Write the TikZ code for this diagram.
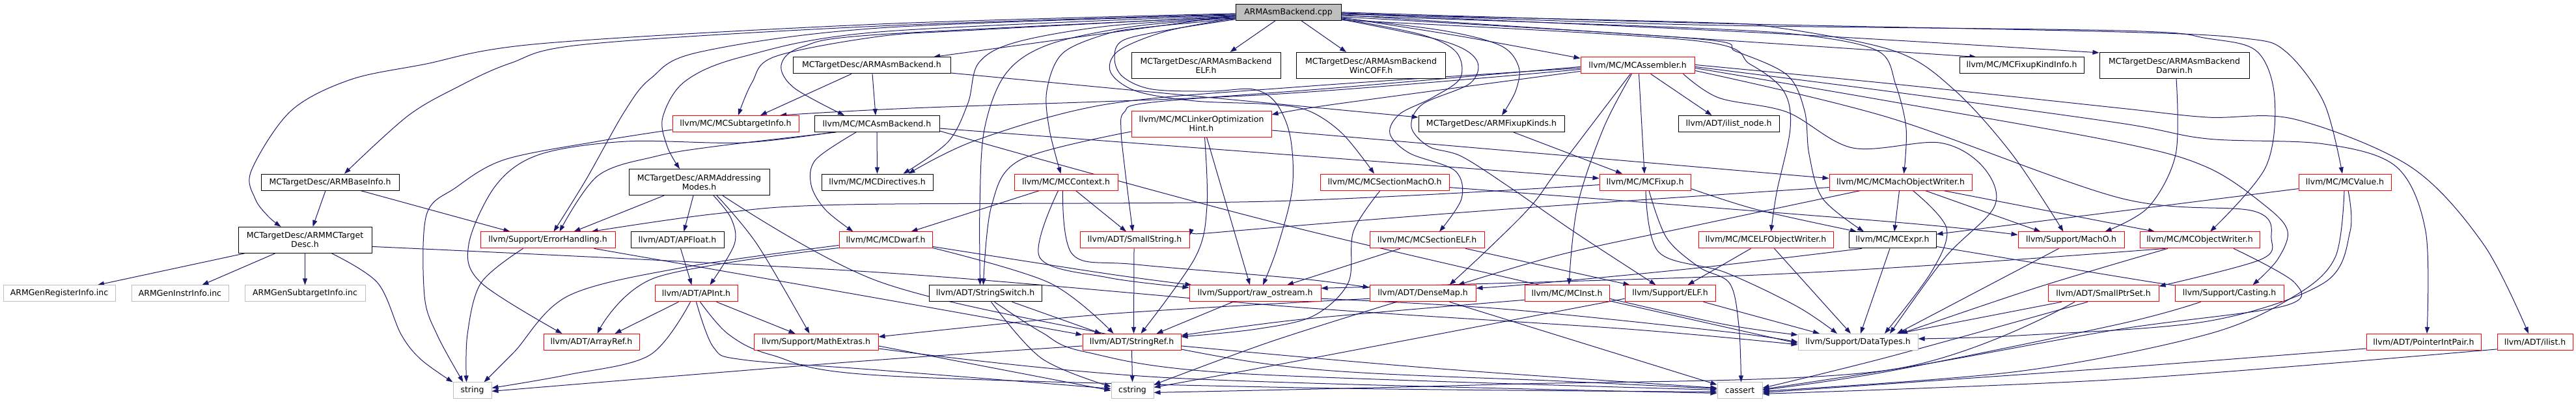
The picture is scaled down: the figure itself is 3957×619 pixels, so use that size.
\documentclass[tikz,border=0pt]{standalone}
\usepackage{fontspec}
\newfontfamily\dvs{DejaVu Sans}
\usetikzlibrary{arrows.meta}
\definecolor{edgeblue}{HTML}{191970}
\definecolor{nodered}{HTML}{FF0000}
\definecolor{nodegray}{HTML}{BFBFBF}
\pgfdeclarelayer{bg}
\pgfsetlayers{bg,main}
\begin{document}
\begin{tikzpicture}[x=1pt,y=-1pt,
  nd/.style={draw, line width=1pt, fill=white, inner sep=0pt, minimum height=25pt, align=center, font=\dvs\fontsize{12.5}{14}\selectfont},
  bk/.style={nd, draw=black},
  rd/.style={nd, draw=nodered},
  gy/.style={nd, draw=nodegray},
  two/.style={minimum height=40pt},
  conn/.style={draw=edgeblue, line width=1pt, line join=round, -{Triangle[length=10pt,width=7pt]}},
  sm/.style={smooth, tension=0.55}]
\useasboundingbox (0,0) rectangle (3957,619);
% ---------------- nodes
\node[bk,fill=nodegray,minimum width=162pt] (cpp) at (1979,18.8) {ARMAsmBackend.cpp};
\node[bk,minimum width=242pt] (armasmbackend) at (1339,100.4) {MCTargetDesc/ARMAsmBackend.h};
\node[bk,two,minimum width=229pt] (elf) at (1852.5,100.4) {MCTargetDesc/ARMAsmBackend\\ELF.h};
\node[bk,two,minimum width=229pt] (wincoff) at (2106,100.4) {MCTargetDesc/ARMAsmBackend\\WinCOFF.h};
\node[rd,minimum width=175pt] (assembler) at (2515.5,100.4) {llvm/MC/MCAssembler.h};
\node[bk,minimum width=191pt] (fixupkindinfo) at (3105.5,100.4) {llvm/MC/MCFixupKindInfo.h};
\node[bk,two,minimum width=230pt] (darwin) at (3340,100.4) {MCTargetDesc/ARMAsmBackend\\Darwin.h};
\node[rd,minimum width=194pt] (subtarget) at (1130,190) {llvm/MC/MCSubtargetInfo.h};
\node[bk,minimum width=192pt] (asmbackend) at (1347,190) {llvm/MC/MCAsmBackend.h};
\node[rd,two,minimum width=215pt] (lohint) at (1845.5,190) {llvm/MC/MCLinkerOptimization\\Hint.h};
\node[bk,minimum width=224pt] (fixupkinds) at (2291,190) {MCTargetDesc/ARMFixupKinds.h};
\node[bk,minimum width=155pt] (ilistnode) at (2655.5,190) {llvm/ADT/ilist\_node.h};
\node[bk,minimum width=212pt] (baseinfo) at (507,279.6) {MCTargetDesc/ARMBaseInfo.h};
\node[bk,two,minimum width=216pt] (addrmodes) at (1074,279.6) {MCTargetDesc/ARMAddressing\\Modes.h};
\node[bk,minimum width=171pt] (directives) at (1347.5,279.6) {llvm/MC/MCDirectives.h};
\node[rd,minimum width=159pt] (context) at (1637.5,279.6) {llvm/MC/MCContext.h};
\node[rd,minimum width=198pt] (sectionmacho) at (2127,279.6) {llvm/MC/MCSectionMachO.h};
\node[rd,minimum width=140pt] (fixup) at (2527,279.6) {llvm/MC/MCFixup.h};
\node[rd,minimum width=219pt] (machowriter) at (2919.5,279.6) {llvm/MC/MCMachObjectWriter.h};
\node[rd,minimum width=142pt] (mcvalue) at (3602,279.6) {llvm/MC/MCValue.h};
\node[bk,two,minimum width=205pt] (mctargetdesc) at (468.5,368.4) {MCTargetDesc/ARMMCTarget\\Desc.h};
\node[rd,minimum width=207pt] (errorhandling) at (841.5,368.4) {llvm/Support/ErrorHandling.h};
\node[bk,minimum width=143pt] (apfloat) at (1040.5,368.4) {llvm/ADT/APFloat.h};
\node[rd,minimum width=143pt] (dwarf) at (1360.5,368.4) {llvm/MC/MCDwarf.h};
\node[rd,minimum width=168pt] (smallstring) at (1743,368.4) {llvm/ADT/SmallString.h};
\node[rd,minimum width=176pt] (sectionelf) at (2192,368.4) {llvm/MC/MCSectionELF.h};
\node[rd,minimum width=207pt] (elfwriter) at (2712.5,368.4) {llvm/MC/MCELFObjectWriter.h};
\node[bk,minimum width=134pt] (mcexpr) at (2907,368.4) {llvm/MC/MCExpr.h};
\node[rd,minimum width=163pt] (macho) at (3181.5,368.4) {llvm/Support/MachO.h};
\node[rd,minimum width=184pt] (objwriter) at (3379,368.4) {llvm/MC/MCObjectWriter.h};
\node[gy,minimum width=172pt] (reginfo) at (91,450.3) {ARMGenRegisterInfo.inc};
\node[gy,minimum width=149pt] (instrinfo) at (276.5,450.3) {ARMGenInstrInfo.inc};
\node[gy,minimum width=185pt] (subinfo) at (468.5,450.3) {ARMGenSubtargetInfo.inc};
\node[rd,minimum width=127pt] (apint) at (1069.5,450.3) {llvm/ADT/APInt.h};
\node[bk,minimum width=173pt] (stringswitch) at (1513.5,450.3) {llvm/ADT/StringSwitch.h};
\node[rd,minimum width=202pt] (rawostream) at (1928,450.3) {llvm/Support/raw\_ostream.h};
\node[rd,minimum width=163pt] (densemap) at (2185.5,450.3) {llvm/ADT/DenseMap.h};
\node[rd,minimum width=130pt] (mcinst) at (2407,450.3) {llvm/MC/MCInst.h};
\node[rd,minimum width=139pt] (supelf) at (2565.5,450.3) {llvm/Support/ELF.h};
\node[rd,minimum width=170pt] (smallptrset) at (3231,450.3) {llvm/ADT/SmallPtrSet.h};
\node[rd,minimum width=167pt] (casting) at (3424.5,450.3) {llvm/Support/Casting.h};
\node[rd,minimum width=147pt] (arrayref) at (908.5,524.9) {llvm/ADT/ArrayRef.h};
\node[rd,minimum width=191pt] (mathextras) at (1253.5,524.9) {llvm/Support/MathExtras.h};
\node[rd,minimum width=151pt] (stringref) at (1738.5,524.9) {llvm/ADT/StringRef.h};
\node[gy,minimum width=184pt] (datatypes) at (2854,524.9) {llvm/Support/DataTypes.h};
\node[rd,minimum width=176pt] (pointerintpair) at (3723,524.9) {llvm/ADT/PointerIntPair.h};
\node[rd,minimum width=116pt] (ilist) at (3894,524.9) {llvm/ADT/ilist.h};
\node[gy,minimum width=59pt] (string) at (725.5,599.4) {string};
\node[gy,minimum width=65pt] (cstring) at (1739.5,599.4) {cstring};
\node[gy,minimum width=69pt] (cassert) at (2672.5,599.4) {cassert};
% ---------------- edges
\begin{pgfonlayer}{bg}
% cpp
\draw[conn] plot[sm] coordinates {([yshift=-2pt]cpp.west) (1350,37) (830,67) (650,99) (536,123) (446,171) (386,262) (392,305) (412,332) ([xshift=-37pt]mctargetdesc.north)};
\draw[conn] plot[sm] coordinates {([yshift=-3pt]cpp.west) (1350,40) (900,68) (784,97) (700,135) (625,179) ([xshift=22pt]baseinfo.north)};
\draw[conn] plot[sm] coordinates {([yshift=-4pt]cpp.west) (1350,43) (1074,80) (1000,120) (960,170) (900,276) ([xshift=9pt]errorhandling.north)};
\draw[conn] plot[sm] coordinates {([yshift=-6pt]cpp.west) (1500,46) (1350,56) (1190,87) (1155,127) ([xshift=4pt]subtarget.north)};
\draw[conn] plot[sm] coordinates {([yshift=-5pt]cpp.west) (1350,49) (1141,87) (1052,125) (1018,180) (1025,225) ([xshift=-30pt]addrmodes.north)};
\draw[conn] plot[sm] coordinates {([yshift=-7pt]cpp.west) (1350,53) (1232,72) (1200,100) (1220,135) ([xshift=-50pt]asmbackend.north)};
\draw[conn] ([yshift=-5pt]cpp.west) -- ([xshift=95pt]armasmbackend.north);
\draw[conn] plot[sm] coordinates {([yshift=-8pt]cpp.west) (1702,40) (1560,65) (1503,97) (1487,158) (1456,218) ([xshift=40pt]directives.north)};
\draw[conn] plot[sm] coordinates {([yshift=-9pt]cpp.west) (1746,40) (1612,68) (1545,113) (1512,199) (1505,318) ([xshift=-8pt]stringswitch.north)};
\draw[conn] plot[sm] coordinates {([yshift=-10pt]cpp.west) (1760,42) (1700,52) (1632,82) (1608,139) (1612,199) ([xshift=-8pt]context.north)};
\draw[conn] ([xshift=-20pt]cpp.south) -- ([xshift=37pt]elf.north);
\draw[conn] ([xshift=20pt]cpp.south) -- ([xshift=-38pt]wincoff.north);
\draw[conn] plot[sm] coordinates {([yshift=-8pt]cpp.east) (2240,55) ([yshift=-2pt]assembler.north west)};
\draw[conn] plot[sm] coordinates {([yshift=-9pt]cpp.east) (2217,47) (2305,70) (2333,103) (2328,140) ([xshift=16pt]fixupkinds.north)};
\draw[conn] plot[sm] coordinates {([yshift=-9pt]cpp.west) (1791,48) (1718,78) (1706,111) (1746,140) (1836,155) (1950,160) (2010,170) (2062,205) ([xshift=-16pt]sectionmacho.north)};
\draw[conn] plot[sm] coordinates {([yshift=-10pt]cpp.east) (2183,53) (2237,80) (2243,120) (2200,150) (2150,175) (2135,205) (2165,235) (2235,262) (2245,305) ([xshift=19pt]sectionelf.north)};
\draw[conn] plot[sm] coordinates {([yshift=-11pt]cpp.east) (2217,63) (2268,92) (2258,128) (2185,160) (2168,195) (2195,225) (2245,240) (2320,288) (2420,357) ([xshift=-22pt]supelf.north)};
\draw[conn] plot[sm] coordinates {([yshift=-11pt]cpp.west) (1800,45) (1725,62) (1712,90) (1725,118) (1770,137) (1860,140) (1925,137) (1960,158) (1982,210) (1985,290) (1962,380) ([xshift=12pt]rawostream.north)};
\draw[conn] ([yshift=-4pt]cpp.east) -- ([xshift=-70pt]fixupkindinfo.north);
\draw[conn] plot[sm] coordinates {([yshift=-2pt]cpp.east) (2700,50) ([yshift=-1pt]darwin.north west)};
\draw[conn] plot[sm] coordinates {(cpp.east) (2600,35) (3257,49) (3449,59) (3511,79) (3570,158) ([xshift=-4pt]mcvalue.north)};
\draw[conn] plot[sm] coordinates {([yshift=-1pt]cpp.east) (2600,38) (3257,47) (3391,59) (3467,79) (3494,150) (3480,257) ([xshift=16pt]objwriter.north)};
\draw[conn] plot[sm] coordinates {([yshift=-3pt]cpp.east) (2600,34) (2734,43) (2912,79) (3002,138) (3091,237) ([xshift=-12pt]macho.north)};
\draw[conn] plot[sm] coordinates {([yshift=-5pt]cpp.east) (2600,43) (2779,55) (2886,79) (2912,130) (2928,197) ([xshift=5pt]machowriter.north)};
\draw[conn] plot[sm] coordinates {([yshift=-7pt]cpp.east) (2600,59) (2667,79) (2745,115) (2772,170) (2779,237) (2800,305) ([xshift=-44pt]mcexpr.north)};
\draw[conn] plot[sm] coordinates {([yshift=-12pt]cpp.east) (2600,62) (2689,99) (2740,140) (2750,197) (2729,296) ([xshift=8pt]elfwriter.north)};
% ARMAsmBackend.h
\draw[conn] ([xshift=1pt]armasmbackend.south) -- ([xshift=-2pt]asmbackend.north);
\draw[conn] ([xshift=-31pt]armasmbackend.south) -- ([xshift=38pt]subtarget.north);
\draw[conn] ([yshift=-11.6pt]armasmbackend.east) -- ([yshift=-3pt]fixupkinds.north west);
% MCAssembler.h
\draw[conn] plot[sm] coordinates {([yshift=-9pt]assembler.west) (2050,160) ([yshift=14pt]lohint.east)};
\draw[conn] plot[sm] coordinates {([yshift=-6pt]assembler.west) (1950,145) (1400,166) ([xshift=68pt]subtarget.north)};
\draw[conn] plot[sm] coordinates {([yshift=-4pt]assembler.west) (2000,133) (1700,160) (1500,215) ([xshift=48pt]directives.north)};
\draw[conn] plot[sm] coordinates {([yshift=-2pt]assembler.west) (2050,135) (1770,157) (1727,172) (1722,200) (1728,260) ([xshift=-3pt]smallstring.north)};
\draw[conn] ([xshift=20pt]assembler.south) -- ([xshift=-26pt]ilistnode.north);
\draw[conn] ([xshift=2pt]assembler.south) -- ([xshift=-1pt]fixup.north);
\draw[conn] plot[sm] coordinates {([xshift=-9pt]assembler.south) (2463,197) (2423,316) ([xshift=3pt]mcinst.north)};
\draw[conn] plot[sm] coordinates {([xshift=-11pt]assembler.south) (2396,256) (2352,316) (2285,383) ([xshift=41pt]densemap.north)};
\draw[conn] plot[sm] coordinates {([xshift=70pt]assembler.south) (2640,150) (2745,172) (2846,227) (2979,219) (3046,256) (3064,316) (2988,395) ([xshift=49pt]datatypes.north)};
\draw[conn] plot[sm] coordinates {([yshift=-8pt]assembler.east) (2900,180) (3257,304) (3462,324) (3489,367) (3471,399) ([yshift=-2pt]smallptrset.north east)};
\draw[conn] plot[sm] coordinates {([yshift=-4pt]assembler.east) (2900,155) (3257,219) (3391,257) (3480,316) (3514,355) (3498,399) ([xshift=36pt]casting.north)};
\draw[conn] plot[sm] coordinates {([yshift=-2pt]assembler.east) (2900,140) (3257,189) (3391,213) (3570,221) (3681,256) (3726,355) ([xshift=5pt]pointerintpair.north)};
\draw[conn] plot[sm] coordinates {([yshift=1pt]assembler.east) (2900,128) (3257,166) (3391,180) (3525,183) (3703,256) (3815,375) ([xshift=-10pt]ilist.north)};
% MCLinkerOptimizationHint.h
\draw[conn] plot[sm] coordinates {([yshift=-12pt]lohint.west) (1568,245) (1523,316) ([xshift=-3pt]stringswitch.north)};
\draw[conn] ([xshift=8pt]lohint.south) -- ([xshift=-8pt]rawostream.north);
\draw[conn] plot[sm] coordinates {([xshift=5pt]lohint.south) (1854,316) (1836,395) ([xshift=14pt]stringref.north)};
\draw[conn] ([yshift=-10pt]lohint.east) -- ([yshift=6pt]machowriter.west);
% MCSubtargetInfo.h
\draw[conn] plot[sm] coordinates {([yshift=-9pt]subtarget.west) (918,217) (775,245) (700,288) (655,330) (652,454) (672,515) ([xshift=-14pt]string.north)};
% MCAsmBackend.h
\draw[conn] (asmbackend.south) -- (directives.north);
\draw[conn] plot[sm] coordinates {([xshift=-32pt]asmbackend.south) (1253,245) (1246,284) (1268,322) ([xshift=-50pt]dwarf.north)};
\draw[conn] plot[sm] coordinates {([xshift=-63pt]asmbackend.south) (1096,225) (1007,240) (918,270) ([xshift=18pt]errorhandling.north)};
\draw[conn] plot[sm] coordinates {([xshift=-68pt]asmbackend.south) (1141,219) (962,217) (829,237) (762,284) (720,375) (739,434) ([xshift=-45pt]arrayref.north)};
\draw[conn] ([yshift=-7pt]asmbackend.east) -- ([yshift=6pt]fixup.west);
\draw[conn] plot[sm] coordinates {([yshift=-11pt]asmbackend.east) (2000,352) ([yshift=-2pt]datatypes.west)};
% ARMFixupKinds.h
\draw[conn] ([xshift=34pt]fixupkinds.south) -- ([xshift=-35pt]fixup.north);
% ARMBaseInfo.h
\draw[conn] ([xshift=-7pt]baseinfo.south) -- ([xshift=12pt]mctargetdesc.north);
\draw[conn] ([xshift=47pt]baseinfo.south) -- ([xshift=-58pt]errorhandling.north);
% ARMAddressingModes.h
\draw[conn] ([xshift=-54pt]addrmodes.south) -- ([xshift=40pt]errorhandling.north);
\draw[conn] ([xshift=-9pt]addrmodes.south) -- ([xshift=10pt]apfloat.north);
\draw[conn] plot[sm] coordinates {([xshift=22pt]addrmodes.south) (1123,335) (1128,375) ([xshift=21pt]apint.north)};
\draw[conn] plot[sm] coordinates {([xshift=27pt]addrmodes.south) (1163,375) ([xshift=-10pt]mathextras.north)};
\draw[conn] plot[sm] coordinates {([xshift=36pt]addrmodes.south) (1350,432) (1702,513) (2000,565) (2400,585) ([yshift=3pt]cassert.west)};
% ARMMCTargetDesc.h
\draw[conn] ([xshift=-93pt]mctargetdesc.south) -- ([xshift=59pt]reginfo.north);
\draw[conn] ([xshift=-46pt]mctargetdesc.south) -- ([xshift=34pt]instrinfo.north);
\draw[conn] (mctargetdesc.south) -- (subinfo.north);
\draw[conn] plot[sm] coordinates {([xshift=41pt]mctargetdesc.south) (580,434) (616,513) (647,552) (string.north west)};
\draw[conn] plot[sm] coordinates {([yshift=-10pt]mctargetdesc.east) (1350,418) (2000,472) (2500,505) ([yshift=-4pt]datatypes.west)};
% ErrorHandling.h
\draw[conn] plot[sm] coordinates {([xshift=-38pt]errorhandling.south) (739,434) (718,513) ([xshift=-9pt]string.north)};
\draw[conn] plot[sm] coordinates {([xshift=71pt]errorhandling.south) (1350,458) ([yshift=-2pt]stringref.north west)};
% APFloat.h
\draw[conn] ([xshift=5pt]apfloat.south) -- ([xshift=-7pt]apint.north);
% MCDwarf.h
\draw[conn] plot[sm] coordinates {([yshift=-8pt]dwarf.west) (1052,410) (873,454) (790,540) ([xshift=18pt]string.north)};
\draw[conn] plot[sm] coordinates {([yshift=-12pt]dwarf.west) (1007,426) ([xshift=9pt]arrayref.north)};
\draw[conn] plot[sm] coordinates {([yshift=-12pt]dwarf.east) (1612,434) ([xshift=-28pt]stringref.north)};
\draw[conn] plot[sm] coordinates {([yshift=-10pt]dwarf.east) (1700,420) ([xshift=4pt]rawostream.north west)};
% MCContext.h
\draw[conn] ([xshift=-41pt]context.south) -- ([xshift=39pt]dwarf.north);
\draw[conn] ([xshift=15pt]context.south) -- ([xshift=-13pt]smallstring.north);
\draw[conn] plot[sm] coordinates {([xshift=-12pt]context.south) (1597,395) (1702,426) ([yshift=-4pt]rawostream.north west)};
\draw[conn] plot[sm] coordinates {([xshift=-5pt]context.south) (1648,391) (1746,406) (2000,428) ([yshift=-4pt]densemap.north west)};
% SmallString.h
\draw[conn] ([xshift=-1pt]smallstring.south) -- ([xshift=3pt]stringref.north);
% MCSectionMachO.h
\draw[conn] plot[sm] coordinates {([yshift=-8pt]sectionmacho.east) (2900,340) ([yshift=8pt]macho.west)};
\draw[conn] plot[sm] coordinates {([xshift=-7pt]sectionmacho.south) (2079,355) (2071,434) (2017,485) (1930,505) ([yshift=8pt]stringref.east)};
% MCFixup.h
\draw[conn] plot[sm] coordinates {([yshift=-4pt]fixup.west) (1950,309) (1300,314) (1100,328) ([xshift=67pt]errorhandling.north)};
\draw[conn] plot[sm] coordinates {([yshift=-10pt]fixup.east) (2700,322) ([xshift=-55pt]mcexpr.north)};
\draw[conn] plot[sm] coordinates {([xshift=1pt]fixup.south) (2548,387) (2650,418) (2760,470) ([xshift=-32pt]datatypes.north)};
\draw[conn] plot[sm] coordinates {([xshift=6pt]fixup.south) (2560,365) (2610,410) (2657,435) (2671,500) ([xshift=2pt]cassert.north)};
% MCMachObjectWriter.h
\draw[conn] ([xshift=-2pt]machowriter.south) -- ([xshift=3pt]mcexpr.north);
\draw[conn] ([xshift=38pt]machowriter.south) -- ([xshift=-47pt]macho.north);
\draw[conn] ([xshift=66pt]machowriter.south) -- ([xshift=-69pt]objwriter.north);
\draw[conn] plot[sm] coordinates {([xshift=19pt]machowriter.south) (2990,350) (2967,417) ([xshift=41pt]datatypes.north)};
\draw[conn] plot[sm] coordinates {([yshift=-8pt]machowriter.west) (2300,322) (1900,354) ([yshift=7pt]smallstring.east)};
\draw[conn] plot[sm] coordinates {([xshift=-62pt]machowriter.south) (2600,347) (2400,390) ([xshift=54pt]densemap.north)};
% MCExpr.h
\draw[conn] ([xshift=-4pt]mcexpr.south) -- ([xshift=4pt]datatypes.north);
\draw[conn] plot[sm] coordinates {([yshift=-10pt]mcexpr.east) (3300,432) ([xshift=4pt]casting.north west)};
\draw[conn] plot[sm] coordinates {([xshift=-47pt]mcexpr.south) (2600,412) (2350,436) ([yshift=8pt]densemap.east)};
% MCValue.h
\draw[conn] plot[sm] coordinates {([yshift=-10pt]mcvalue.west) (3257,324) (3050,350) ([yshift=9pt]mcexpr.east)};
\draw[conn] plot[sm] coordinates {([xshift=5pt]mcvalue.south) (3610,355) (3570,434) (3391,493) (3100,515) ([yshift=5pt]datatypes.east)};
\draw[conn] plot[sm] coordinates {([xshift=-1pt]mcvalue.south) (3587,395) (3525,454) (3391,513) (3100,570) ([yshift=-1pt]cassert.east)};
% MCObjectWriter.h
\draw[conn] plot[sm] coordinates {([xshift=-53pt]objwriter.south) (3000,405) (2650,424) ([yshift=8pt]rawostream.east)};
\draw[conn] plot[sm] coordinates {([xshift=-49pt]objwriter.south) (3133,440) ([xshift=66pt]datatypes.north)};
\draw[conn] plot[sm] coordinates {([xshift=52pt]objwriter.south) (3525,434) (3507,470) (3257,505) (2950,560) ([yshift=2pt]cassert.east)};
% MachO.h, Darwin
\draw[conn] ([xshift=-19pt]macho.south) -- ([xshift=60pt]datatypes.north);
\draw[conn] plot[sm] coordinates {([xshift=3pt]darwin.south) (3342,237) (3300,318) ([xshift=52pt]macho.north)};
% MCELFObjectWriter.h
\draw[conn] ([xshift=-23pt]elfwriter.south) -- ([xshift=27pt]supelf.north);
\draw[conn] ([xshift=13pt]elfwriter.south) -- ([xshift=-11pt]datatypes.north);
% MCSectionELF.h
\draw[conn] ([xshift=-41pt]sectionelf.south) -- ([xshift=49pt]rawostream.north);
\draw[conn] ([xshift=59pt]sectionelf.south) -- ([xshift=-62pt]supelf.north);
% Support/ELF.h
\draw[conn] ([xshift=51pt]supelf.south) -- ([xshift=-59pt]datatypes.north);
\draw[conn] plot[sm] coordinates {([yshift=-8pt]supelf.west) (1950,562) ([yshift=5pt]cstring.east)};
% MCInst.h
\draw[conn] plot[sm] coordinates {([yshift=-10pt]mcinst.west) (2000,490) ([yshift=10pt]stringref.east)};
\draw[conn] plot[sm] coordinates {([yshift=-8pt]mcinst.east) (2650,498) ([yshift=-2pt]datatypes.north west)};
% raw_ostream.h
\draw[conn] ([xshift=-34pt]rawostream.south) -- ([xshift=38pt]stringref.north);
\draw[conn] plot[sm] coordinates {([yshift=-8pt]rawostream.east) (2307,474) (2650,509) (datatypes.west)};
% DenseMap.h
\draw[conn] plot[sm] coordinates {([yshift=-8pt]densemap.west) (1700,482) ([yshift=8pt]mathextras.east)};
\draw[conn] plot[sm] coordinates {([xshift=-40pt]densemap.south) (1950,525) ([yshift=9pt]cstring.east)};
\draw[conn] ([xshift=41pt]densemap.south) -- ([yshift=9pt]cassert.west);
% SmallPtrSet.h
\draw[conn] ([xshift=-64pt]smallptrset.south) -- ([xshift=62pt]datatypes.north);
\draw[conn] plot[sm] coordinates {([xshift=-44pt]smallptrset.south) (2900,568) (2300,590) ([yshift=-3pt]cstring.east)};
\draw[conn] plot[sm] coordinates {([xshift=-24pt]smallptrset.south) (2900,548) ([yshift=4pt]cassert.east)};
% Casting, PointerIntPair, ilist
\draw[conn] plot[sm] coordinates {([xshift=-44pt]casting.south) (3257,497) (2900,570) ([yshift=1pt]cassert.east)};
\draw[conn] plot[sm] coordinates {([yshift=-10pt]pointerintpair.west) (3257,564) ([yshift=-3pt]cassert.east)};
\draw[conn] plot[sm] coordinates {([yshift=-11pt]ilist.west) (3257,582) ([yshift=-5pt]cassert.east)};
% StringRef.h
\draw[conn] plot[sm] coordinates {([yshift=-6pt]stringref.west) (1300,556) ([yshift=-1pt]string.east)};
\draw[conn] (stringref.south) -- (cstring.north);
\draw[conn] plot[sm] coordinates {([yshift=-6pt]stringref.east) (2200,565) ([yshift=4pt]cassert.west)};
% StringSwitch.h
\draw[conn] ([xshift=41pt]stringswitch.south) -- ([xshift=-47pt]stringref.north);
\draw[conn] plot[sm] coordinates {([xshift=9pt]stringswitch.south) (1600,550) ([yshift=6pt]cstring.west)};
\draw[conn] plot[sm] coordinates {([xshift=14pt]stringswitch.south) (1600,510) (1667,540) (1900,573) ([yshift=1pt]cassert.west)};
% APInt.h
\draw[conn] ([xshift=-27pt]apint.south) -- ([xshift=36pt]arrayref.north);
\draw[conn] ([xshift=31pt]apint.south) -- ([xshift=-32pt]mathextras.north);
\draw[conn] plot[sm] coordinates {([xshift=-9pt]apint.south) (998,545) (873,575) ([yshift=4pt]string.east)};
\draw[conn] plot[sm] coordinates {(apint.south) (1096,533) (1141,552) (1350,568) ([yshift=3pt]cstring.west)};
\draw[conn] plot[sm] coordinates {([xshift=6pt]apint.south) (1119,513) (1186,545) (1350,576) (2000,595) ([yshift=-2pt]cassert.west)};
% MathExtras.h
\draw[conn] ([yshift=-6pt]mathextras.east) -- (cstring.west);
\draw[conn] plot[sm] coordinates {([yshift=-10pt]mathextras.east) (1800,580) ([yshift=-4pt]cassert.west)};
\end{pgfonlayer}
\end{tikzpicture}
\end{document}
